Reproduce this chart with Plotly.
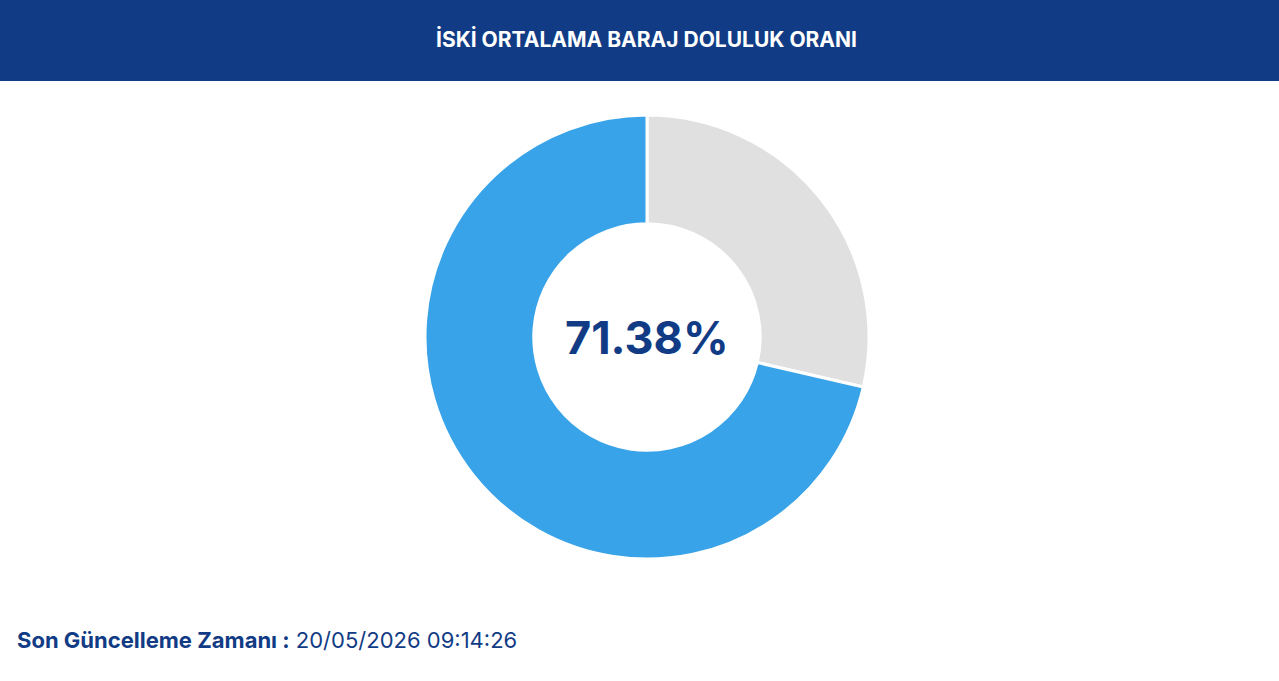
import plotly.graph_objects as go

labels = ["Boş", "Dolu"]
values = [28.62, 71.38]
colors = ["#e0e0e0", "#38a3e8"]
title = "İSKİ ORTALAMA BARAJ DOLULUK ORANI"
center_text = "71.38%"
footer_label = "Son Güncelleme Zamanı :"
footer_value = "20/05/2026 09:14:26"

W, H = 1279, 681
fig = go.Figure(go.Pie(
    labels=labels, values=values, hole=0.51, sort=False, direction="clockwise",
    rotation=0, marker=dict(colors=colors, line=dict(color="white", width=3)),
    textinfo="none", hoverinfo="label+percent", showlegend=False,
    domain=dict(x=[425/W, 869/W], y=[1-559/H, 1-115/H]),
))
fig.add_shape(type="rect", xref="paper", yref="paper", x0=0, x1=1, y0=1-81/H, y1=1,
              fillcolor="#113c85", line=dict(width=0), layer="below")
fig.add_annotation(x=646/W, y=1-39/H, xref="paper", yref="paper", showarrow=False, yanchor="middle",
                   text=f"<b>{title}</b>", font=dict(family="Inter", size=21, color="white"))
fig.add_annotation(x=647/W, y=1-337/H, xref="paper", yref="paper", showarrow=False, yanchor="middle",
                   text=f"<b>{center_text}</b>", font=dict(family="Inter", size=45, color="#113c85"))
fig.add_annotation(x=15/W, y=1-640/H, xref="paper", yref="paper", showarrow=False, xanchor="left",
                   yanchor="middle",
                   text=f"<b>{footer_label}</b> {footer_value}",
                   font=dict(family="Inter", size=22, color="#113c85"))
fig.update_layout(width=W, height=H, margin=dict(l=0, r=0, t=0, b=0),
                  paper_bgcolor="white", plot_bgcolor="white")
fig.write_html("out.html", config={"displayModeBar": False})

with open("out.html", encoding="utf-8") as f:
    html = f.read()
html = html.replace("<head>", "<head><style>html,body{margin:0;padding:0;overflow:hidden}</style>", 1)
with open("out.html", "w", encoding="utf-8") as f:
    f.write(html)
